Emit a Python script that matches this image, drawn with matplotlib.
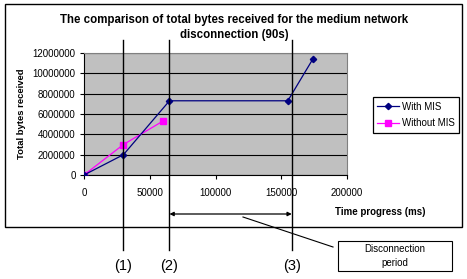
import matplotlib
matplotlib.use("Agg")
import matplotlib.pyplot as plt
import matplotlib.transforms as mtransforms
from matplotlib.patches import Rectangle

plt.rcParams['font.family'] = ['Liberation Sans', 'DejaVu Sans']

with_x = [0, 30000, 65000, 155000, 174000]
with_y = [0, 2000000, 7300000, 7300000, 11400000]
without_x = [0, 30000, 60000]
without_y = [0, 3000000, 5300000]
event_x = [30000, 65000, 158000]
event_labels = ['(1)', '(2)', '(3)']
yticks = [0, 2000000, 4000000, 6000000, 8000000, 10000000, 12000000]
xticks = [0, 50000, 100000, 150000, 200000]

W, H = 467, 279
fig = plt.figure(figsize=(W/100, H/100), dpi=100)
fig.patch.set_facecolor('white')

# chart border
fig.add_artist(Rectangle((5/W, 1-227/H), 457/W, 223/H, transform=fig.transFigure,
                         fill=False, edgecolor='black', lw=1.0))

ax = fig.add_axes([84/W, 1-175/H, 263/W, 122/H])
ax.set_facecolor('#C0C0C0')
ax.set_xlim(0, 200000)
ax.set_ylim(0, 12000000)
ax.set_yticks(yticks)
ax.set_xticks(xticks)
ax.set_yticklabels([str(v) for v in yticks], fontsize=7)
ax.set_xticklabels([str(v) for v in xticks], fontsize=7)
ax.yaxis.grid(True, color='black', lw=0.8)
ax.set_axisbelow(True)
for s in ['top', 'right']:
    ax.spines[s].set_color('#808080')
ax.spines['left'].set_color('black')
ax.spines['bottom'].set_color('black')
ax.tick_params(axis='both', length=3, width=0.8, pad=3)
ax.tick_params(axis='x', pad=6)

ax.plot(with_x, with_y, color='#000080', marker='D', markersize=3.2, lw=0.9,
        label='With MIS', zorder=4)
ax.plot(without_x, without_y, color='#FF00FF', marker='s', markersize=3.8, lw=0.9,
        label='Without MIS', zorder=3)

ax.set_ylabel('Total bytes received', fontsize=6.8, fontweight='bold', labelpad=5)
fig.text(380/W, 1-212/H, 'Time progress (ms)', fontsize=7, fontweight='bold',
         ha='center', va='center')

fig.text(234/W, 1-20/H, 'The comparison of total bytes received for the medium network',
         fontsize=8.3, fontweight='bold', ha='center', va='center')
fig.text(234/W, 1-35/H, 'disconnection (90s)',
         fontsize=8.3, fontweight='bold', ha='center', va='center')

trans = mtransforms.blended_transform_factory(ax.transData, ax.transAxes)
ytop = (175-40)/122
ybot = (175-250)/122
for xv, lab in zip(event_x, event_labels):
    ax.plot([xv, xv], [ybot, ytop], color='black', lw=1.0, transform=trans,
            clip_on=False, zorder=5)
    ax.text(xv, (175-266)/122, lab, transform=trans, fontsize=10.5,
            ha='center', va='center')

yarr = (175-214)/122
ax.annotate('', xy=(event_x[2], yarr), xytext=(event_x[1], yarr),
            xycoords=trans, textcoords=trans,
            arrowprops=dict(arrowstyle='<|-|>', color='black', lw=0.9,
                            mutation_scale=6, shrinkA=0, shrinkB=0),
            annotation_clip=False)

# pointer line and callout box
fig.add_artist(plt.Line2D([243/W, 333/W], [1-217/H, 1-247/H], color='black', lw=0.8,
                          transform=fig.transFigure))
fig.add_artist(Rectangle((338/W, 1-271/H), 114/W, 30/H, transform=fig.transFigure,
                         facecolor='white', edgecolor='black', lw=0.8))
fig.text(395/W, 1-249/H, 'Disconnection', fontsize=7, ha='center', va='center')
fig.text(395/W, 1-263/H, 'period', fontsize=7, ha='center', va='center')

leg = ax.legend(loc='center', bbox_to_anchor=(416/W, 1-115/H), bbox_transform=fig.transFigure,
                fontsize=7, frameon=True, fancybox=False, edgecolor='black',
                framealpha=1, borderpad=0.5, handlelength=2.2, labelspacing=0.7,
                handletextpad=0.3)
leg.get_frame().set_linewidth(0.9)

fig.savefig('out.png', dpi=100)
